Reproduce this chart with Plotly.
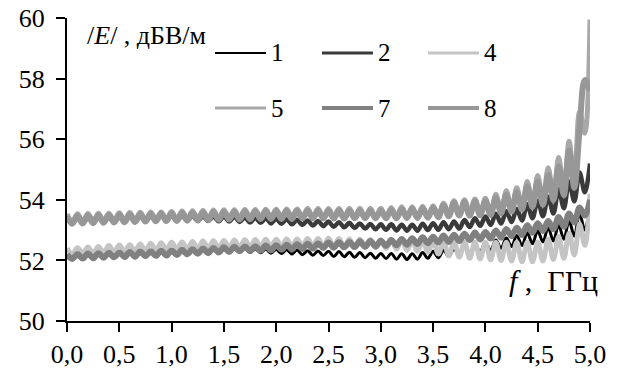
import plotly.graph_objects as go

# ---- data ----
freq = [round(0.05 * i, 2) for i in range(101)]  # GHz, 0.0 .. 5.0

s1 = [52.12, 52.05, 52.14, 52.07, 52.16, 52.08, 52.17, 52.10, 52.19, 52.11,
      52.21, 52.12, 52.23, 52.14, 52.25, 52.15, 52.26, 52.17, 52.28, 52.19,
      52.30, 52.20, 52.31, 52.22, 52.32, 52.23, 52.34, 52.25, 52.35, 52.26,
      52.36, 52.27, 52.38, 52.27, 52.39, 52.26, 52.38, 52.25, 52.37, 52.24,
      52.36, 52.23, 52.35, 52.21, 52.34, 52.19, 52.32, 52.17, 52.31, 52.16,
      52.30, 52.13, 52.29, 52.12, 52.27, 52.10, 52.26, 52.09, 52.24, 52.07,
      52.23, 52.06, 52.23, 52.04, 52.22, 52.03, 52.22, 52.04, 52.26, 52.07,
      52.30, 52.09, 52.33, 52.13, 52.38, 52.15, 52.45, 52.22, 52.52, 52.28,
      52.60, 52.33, 52.67, 52.40, 52.74, 52.46, 52.82, 52.49, 52.91, 52.55,
      52.98, 52.61, 53.08, 52.64, 53.17, 52.70, 53.30, 52.80, 53.55, 53.00,
      53.90]

s2 = [53.38, 53.23, 53.39, 53.24, 53.40, 53.25, 53.41, 53.26, 53.42, 53.27,
      53.43, 53.28, 53.44, 53.29, 53.45, 53.30, 53.46, 53.31, 53.47, 53.32,
      53.48, 53.32, 53.47, 53.31, 53.47, 53.30, 53.46, 53.30, 53.45, 53.29,
      53.45, 53.28, 53.44, 53.27, 53.42, 53.25, 53.41, 53.24, 53.39, 53.22,
      53.38, 53.21, 53.36, 53.19, 53.34, 53.17, 53.32, 53.15, 53.30, 53.13,
      53.28, 53.11, 53.26, 53.09, 53.24, 53.07, 53.22, 53.05, 53.20, 53.03,
      53.19, 53.01, 53.19, 52.99, 53.18, 52.98, 53.18, 52.98, 53.21, 53.00,
      53.23, 53.01, 53.26, 53.03, 53.28, 53.05, 53.33, 53.10, 53.39, 53.14,
      53.45, 53.17, 53.54, 53.22, 53.62, 53.27, 53.70, 53.32, 53.85, 53.39,
      53.97, 53.46, 54.10, 53.55, 54.35, 53.72, 54.60, 53.95, 54.90, 54.25,
      55.20]

s4 = [52.40, 52.21, 52.42, 52.23, 52.44, 52.24, 52.46, 52.26, 52.49, 52.28,
      52.51, 52.30, 52.52, 52.31, 52.54, 52.32, 52.57, 52.33, 52.58, 52.35,
      52.60, 52.37, 52.61, 52.38, 52.62, 52.39, 52.64, 52.40, 52.65, 52.41,
      52.66, 52.42, 52.67, 52.43, 52.68, 52.44, 52.69, 52.45, 52.70, 52.46,
      52.70, 52.46, 52.71, 52.47, 52.71, 52.47, 52.72, 52.48, 52.72, 52.48,
      52.73, 52.46, 52.72, 52.45, 52.71, 52.44, 52.70, 52.43, 52.69, 52.42,
      52.68, 52.40, 52.67, 52.37, 52.67, 52.33, 52.66, 52.30, 52.66, 52.27,
      52.65, 52.21, 52.62, 52.15, 52.61, 52.11, 52.61, 52.07, 52.60, 52.05,
      52.60, 52.02, 52.60, 52.00, 52.60, 51.98, 52.60, 51.96, 52.60, 51.96,
      52.60, 51.98, 52.70, 52.03, 52.79, 52.07, 52.90, 52.18, 53.20, 52.50,
      54.20]

s5 = [53.53, 53.27, 53.54, 53.28, 53.55, 53.29, 53.56, 53.30, 53.56, 53.31,
      53.57, 53.32, 53.58, 53.33, 53.59, 53.33, 53.60, 53.34, 53.60, 53.35,
      53.61, 53.35, 53.63, 53.36, 53.64, 53.37, 53.65, 53.38, 53.66, 53.38,
      53.67, 53.39, 53.67, 53.40, 53.68, 53.40, 53.68, 53.41, 53.69, 53.41,
      53.69, 53.41, 53.70, 53.41, 53.70, 53.42, 53.71, 53.42, 53.71, 53.42,
      53.71, 53.42, 53.71, 53.42, 53.72, 53.42, 53.72, 53.42, 53.72, 53.42,
      53.72, 53.42, 53.75, 53.43, 53.77, 53.43, 53.77, 53.43, 53.79, 53.44,
      53.80, 53.46, 53.89, 53.51, 53.97, 53.53, 54.00, 53.54, 54.03, 53.55,
      54.05, 53.56, 54.18, 53.61, 54.30, 53.67, 54.40, 53.75, 54.60, 53.85,
      54.80, 53.97, 55.06, 54.12, 55.40, 54.33, 55.93, 54.60, 56.90, 56.20,
      59.95]

s7 = [52.20, 52.05, 52.21, 52.06, 52.23, 52.07, 52.24, 52.09, 52.25, 52.10,
      52.26, 52.11, 52.28, 52.12, 52.29, 52.14, 52.30, 52.15, 52.32, 52.16,
      52.33, 52.18, 52.35, 52.20, 52.37, 52.22, 52.39, 52.24, 52.41, 52.26,
      52.43, 52.28, 52.45, 52.30, 52.46, 52.31, 52.47, 52.32, 52.49, 52.33,
      52.50, 52.35, 52.52, 52.36, 52.53, 52.38, 52.55, 52.39, 52.56, 52.41,
      52.59, 52.42, 52.60, 52.43, 52.61, 52.44, 52.63, 52.45, 52.64, 52.46,
      52.65, 52.48, 52.67, 52.50, 52.71, 52.52, 52.73, 52.54, 52.76, 52.57,
      52.78, 52.59, 52.82, 52.61, 52.85, 52.64, 52.88, 52.67, 52.92, 52.69,
      52.94, 52.72, 52.99, 52.75, 53.04, 52.80, 53.08, 52.84, 53.16, 52.91,
      53.23, 52.97, 53.30, 53.03, 53.43, 53.11, 53.55, 53.25, 53.75, 53.48,
      54.00]

s8 = [53.46, 53.21, 53.47, 53.22, 53.48, 53.23, 53.49, 53.24, 53.50, 53.25,
      53.51, 53.26, 53.52, 53.27, 53.53, 53.28, 53.54, 53.29, 53.55, 53.30,
      53.56, 53.30, 53.57, 53.31, 53.58, 53.32, 53.59, 53.33, 53.60, 53.34,
      53.60, 53.35, 53.61, 53.35, 53.62, 53.36, 53.62, 53.37, 53.63, 53.37,
      53.63, 53.37, 53.63, 53.37, 53.64, 53.38, 53.64, 53.38, 53.64, 53.38,
      53.64, 53.38, 53.65, 53.38, 53.65, 53.39, 53.65, 53.39, 53.65, 53.39,
      53.65, 53.39, 53.67, 53.39, 53.69, 53.40, 53.71, 53.40, 53.72, 53.41,
      53.74, 53.42, 53.82, 53.46, 53.90, 53.48, 53.93, 53.48, 53.95, 53.49,
      53.95, 53.50, 54.07, 53.56, 54.16, 53.61, 54.25, 53.68, 54.45, 53.76,
      54.60, 53.84, 54.82, 53.99, 55.10, 54.15, 55.62, 54.40, 56.30, 57.95,
      57.60]

series_names = ["1", "2", "4", "5", "7", "8"]
series_values = [s1, s2, s4, s5, s7, s8]

x_ticks = [0.0, 0.5, 1.0, 1.5, 2.0, 2.5, 3.0, 3.5, 4.0, 4.5, 5.0]
y_ticks = [50, 52, 54, 56, 58, 60]

# ---- styles ----
colors = {"1": "#000000", "2": "#3a3a3a", "4": "#c4c4c4",
          "5": "#a8a8a8", "7": "#808080", "8": "#979797"}
widths = {"1": 3, "2": 4.5, "4": 5, "5": 5, "7": 6, "8": 6}
leg_widths = {"1": 2, "2": 3, "4": 3, "5": 3, "7": 4, "8": 4}

FONT = "Liberation Serif, Times New Roman, serif"
W, H = 619, 381
ML, MR, MT, MB = 67, 29, 18, 60
PW, PH = W - ML - MR, H - MT - MB


def px2paper(px, py):
    return (px - ML) / PW, (H - MB - py) / PH


fig = go.Figure()
for name, vals in zip(series_names, series_values):
    fig.add_trace(go.Scatter(
        x=freq, y=vals, mode="lines", name=name,
        line=dict(color=colors[name], width=widths[name], shape="spline", smoothing=1.0),
        showlegend=False,
    ))

# manual legend (2 rows x 3)
leg_pos = {"1": (215, 53), "2": (322, 53), "4": (428, 53),
           "5": (215, 108), "7": (322, 108), "8": (428, 108)}
shapes = []
annotations = []
for name in series_names:
    lx, ly = leg_pos[name]
    x0, y0 = px2paper(lx, ly)
    x1, _ = px2paper(lx + 51, ly)
    xt, _ = px2paper(lx + 54, ly)
    shapes.append(dict(type="line", xref="paper", yref="paper", x0=x0, x1=x1, y0=y0, y1=y0,
                       line=dict(color=colors[name], width=leg_widths[name])))
    annotations.append(dict(text=name, xref="paper", yref="paper", x=xt, y=y0,
                            xanchor="left", yanchor="middle", showarrow=False,
                            font=dict(family=FONT, size=25, color="black")))

yx, yy = px2paper(85, 35)
annotations.append(dict(text="/<i>E</i>/ , дБВ/м", xref="paper", yref="paper", x=yx, y=yy,
                        xanchor="left", yanchor="middle", showarrow=False,
                        font=dict(family=FONT, size=26, color="black")))
fx, fy = px2paper(507, 280)
annotations.append(dict(text="<i>f</i> ,  ГГц", xref="paper", yref="paper", x=fx, y=fy,
                        xanchor="left", yanchor="middle", showarrow=False,
                        font=dict(family=FONT, size=30, color="black")))

axis_common = dict(showgrid=False, zeroline=False, showline=True, linecolor="black",
                   linewidth=2, ticks="outside", ticklen=9, tickwidth=2, tickcolor="black",
                   automargin=False,
                   tickfont=dict(family=FONT, size=26, color="black"))

fig.update_layout(
    width=W, height=H,
    margin=dict(l=ML, r=MR, t=MT, b=MB, pad=0, autoexpand=False),
    paper_bgcolor="white", plot_bgcolor="white",
    separators=", ",
    xaxis=dict(range=[0, 5], tickvals=x_ticks, tickformat=".1f", **axis_common),
    yaxis=dict(range=[50, 60], tickvals=y_ticks, ticklabelstandoff=6, **axis_common),
    shapes=shapes, annotations=annotations,
    showlegend=False,
)

fig.write_html("out.html")
